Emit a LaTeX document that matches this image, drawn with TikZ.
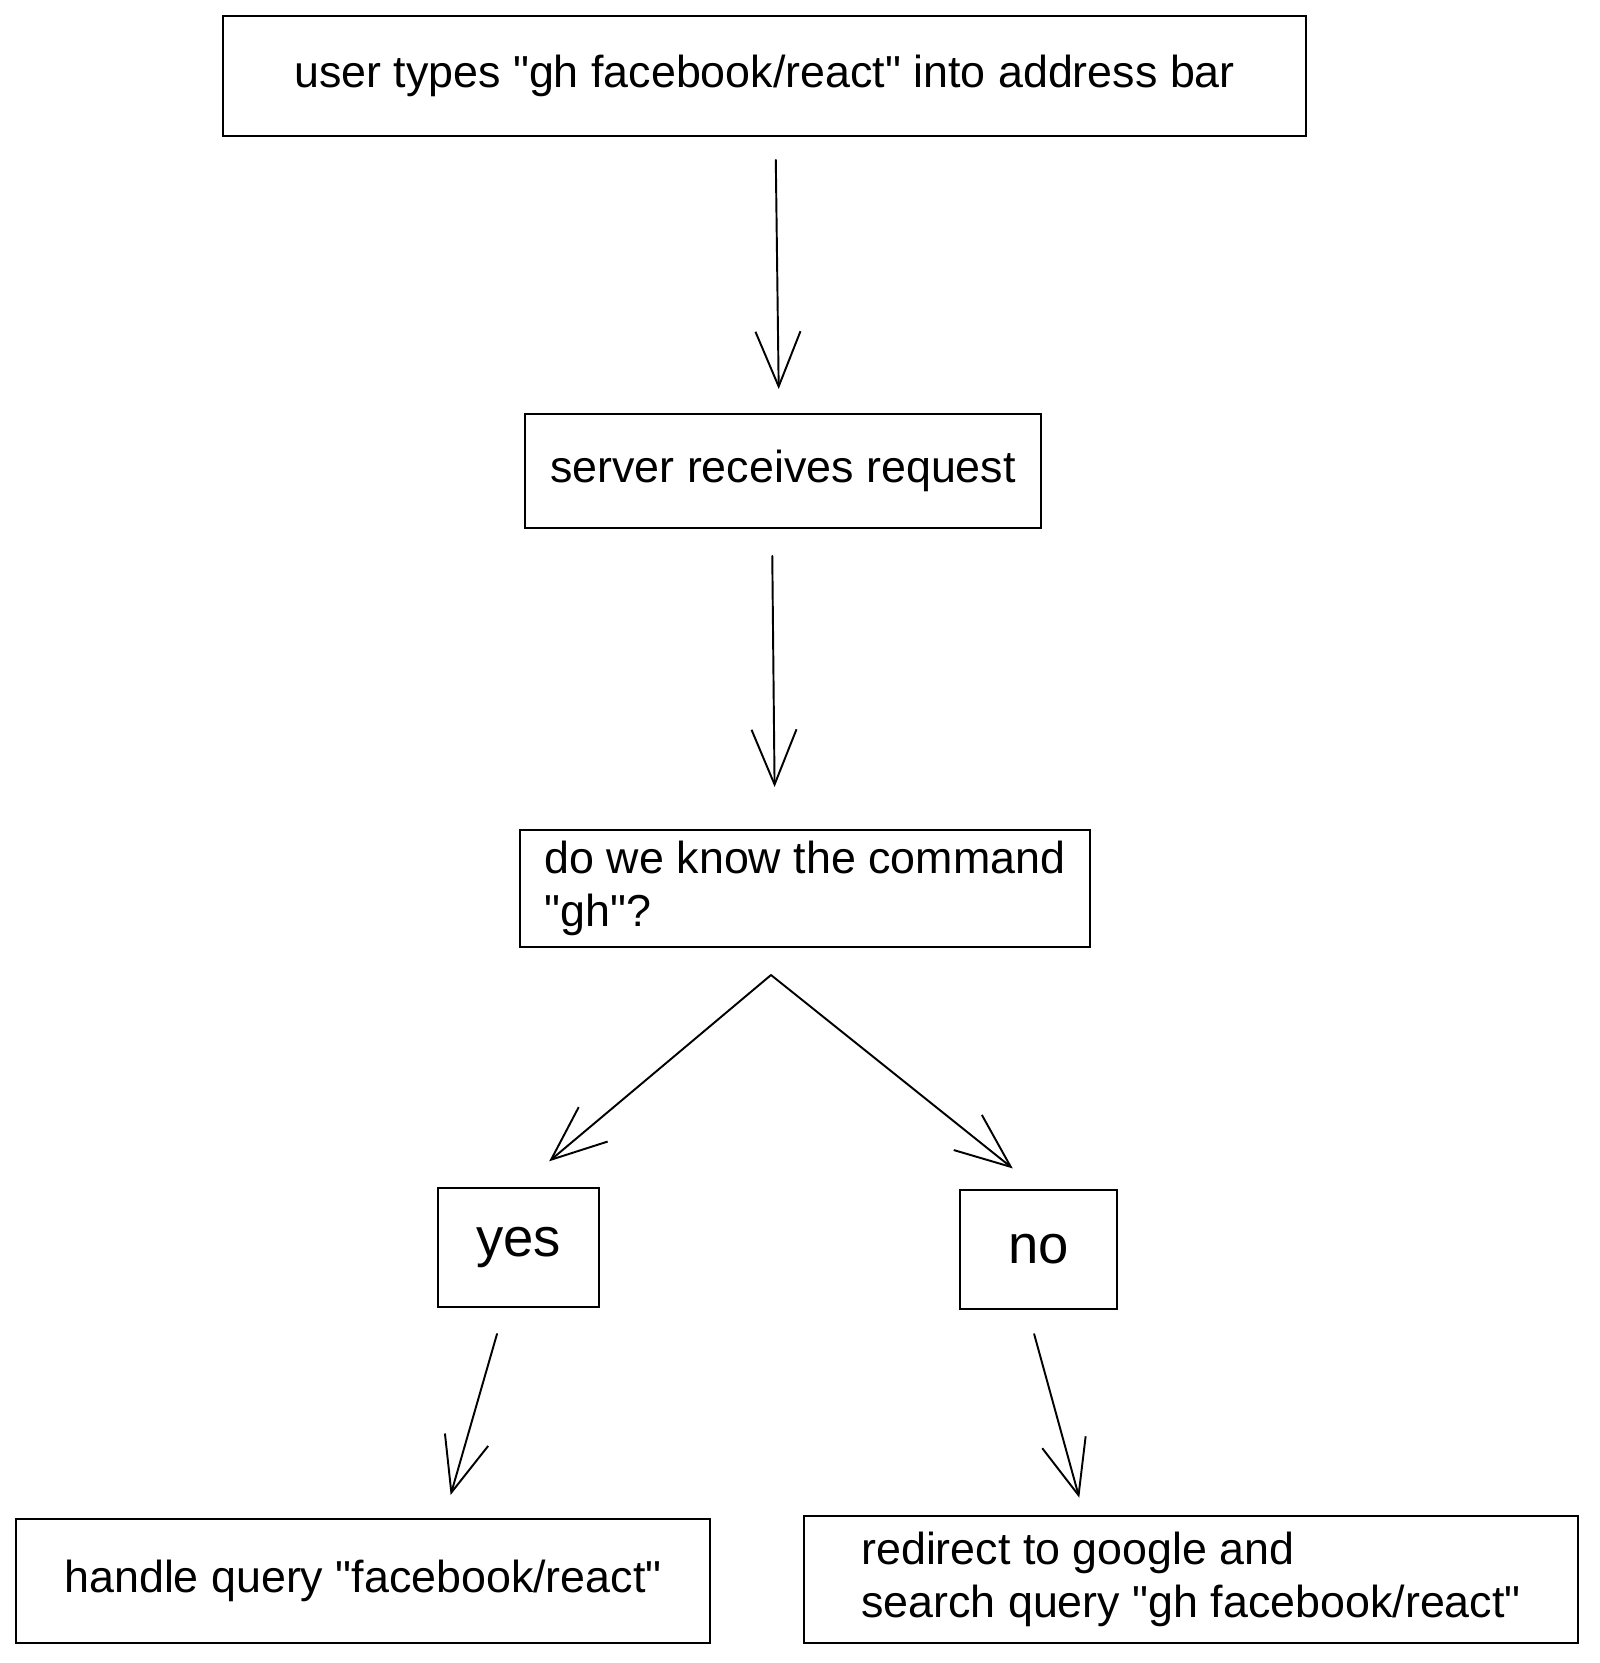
\documentclass[tikz,border=0pt]{standalone}
\usepackage{fontspec}
\setmainfont{Liberation Sans}[Ligatures=TeXOff]
\usetikzlibrary{arrows.meta}

\begin{document}
\begin{tikzpicture}
[x=0.02cm,y=-0.02cm,
	 stepbox/.style={draw,line width=1.1pt,inner sep=0pt,align=left,font=\fontsize{25.5}{30}\selectfont},
	 answerbox/.style={stepbox,font=\fontsize{31}{36}\selectfont},
	 sketcharrow/.style={-{Straight Barb[length=1.1cm,width=0.9cm]},line width=1.1pt,line cap=round}];
\useasboundingbox (0,0) rectangle (1599,1663);
\node[stepbox,minimum width=21.66cm,minimum height=2.4cm] (typed) at (764.5,76) {user types "gh facebook/react" into address bar};
\node[stepbox,minimum width=10.32cm,minimum height=2.28cm] (server) at (783,471) {server receives request};
\node[stepbox,minimum width=11.4cm,minimum height=2.34cm] (known) at (805,888.5) {do we know the command\\"gh"?};
\node[answerbox,minimum width=3.22cm,minimum height=2.38cm] (yes) at (518.5,1247.5) {yes};
\node[answerbox,minimum width=3.14cm,minimum height=2.38cm] (no) at (1038.5,1249.5) {no};
\node[stepbox,minimum width=13.88cm,minimum height=2.48cm] (handle) at (363,1581) {handle query "facebook/react"};
\node[stepbox,minimum width=15.48cm,minimum height=2.54cm] (redirect) at (1191,1579.5) {redirect to google and\\search query "gh facebook/react"};
\coordinate (fork) at (771,975);

\draw[sketcharrow,shorten <=0.46cm,shorten >=0.48cm] ([xshift=0.22cm]typed.south) -- ([xshift=-0.08cm]server.north);
\draw[sketcharrow,shorten <=0.54cm,shorten >=0.84cm] ([xshift=-0.22cm]server.south) -- ([xshift=-0.6cm]known.north);
\draw[sketcharrow,shorten >=0.8cm] (fork) -- (yes.north);
\draw[sketcharrow,shorten >=0.66cm] (fork) -- (no.north);
\draw[sketcharrow,shorten <=0.54cm,shorten >=0.48cm] ([xshift=-0.28cm]yes.south) -- ([xshift=1.62cm]handle.north);
\draw[sketcharrow,shorten <=0.5cm,shorten >=0.36cm] ([xshift=-0.22cm]no.south) -- ([xshift=-2.14cm]redirect.north);

\end{tikzpicture}
\end{document}
